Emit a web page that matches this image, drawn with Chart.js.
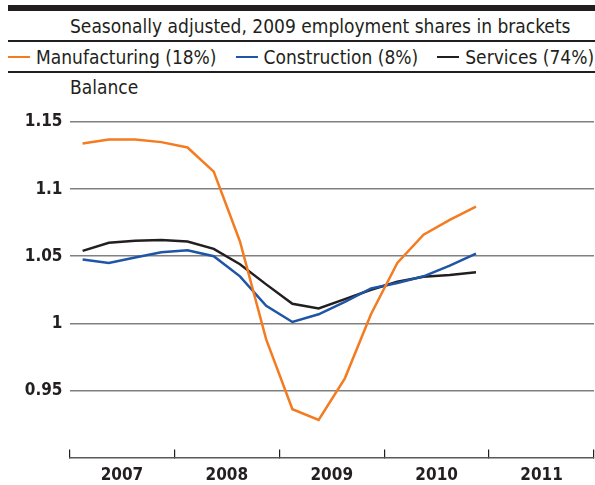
<!DOCTYPE html>
<html>
<head>
    <title>Employment balance by sector</title>
    <script src="https://cdn.jsdelivr.net/npm/chart.js"></script>
    <style>
        body {
            margin: 0;
            background: #fff;
        }
        .wrap {
            position: relative;
            width: 595px;
            height: 485px;
            font-family: "DejaVu Sans Condensed", "DejaVu Sans", sans-serif;
            color: #231f20;
        }
        .bar {
            position: absolute;
            left: 8px;
            top: 5px;
            width: 587px;
            height: 6px;
            background: #231f20;
        }
        .rule {
            position: absolute;
            left: 8px;
            width: 587px;
            height: 1.5px;
            background: #231f20;
        }
        .txt {
            position: absolute;
            font-size: 19px;
            line-height: 22px;
            white-space: nowrap;
        }
        #legend {
            position: absolute;
            left: 8px;
            top: 46px;
            height: 22px;
            display: flex;
            align-items: center;
            font-size: 19px;
            white-space: nowrap;
        }
        .item {
            display: flex;
            align-items: center;
            margin-right: 19px;
        }
        .swatch {
            width: 22px;
            height: 2.5px;
            margin-right: 6px;
        }
        canvas {
            position: absolute;
            left: 0;
            top: 0;
        }
    </style>
</head>
<body>
    <div class="wrap">
        <div class="bar"></div>
        <div class="txt" style="left:70px; top:15px;">Seasonally adjusted, 2009 employment shares in brackets</div>
        <div class="rule" style="top:40px;"></div>
        <div id="legend"></div>
        <div class="rule" style="top:71px;"></div>
        <div class="txt" style="left:70px; top:76px;">Balance</div>
        <canvas id="chart" width="595" height="485"></canvas>
    </div>

    <script>
        // quarterly points, Q1 2007 - Q4 2010 (2011 left empty)
        const quarters = [
            '2007 Q1', '2007 Q2', '2007 Q3', '2007 Q4',
            '2008 Q1', '2008 Q2', '2008 Q3', '2008 Q4',
            '2009 Q1', '2009 Q2', '2009 Q3', '2009 Q4',
            '2010 Q1', '2010 Q2', '2010 Q3', '2010 Q4',
            '2011 Q1', '2011 Q2', '2011 Q3', '2011 Q4'
        ];
        const years = ['2007', '2008', '2009', '2010', '2011'];

        const manufacturing = [1.134, 1.137, 1.137, 1.135, 1.131, 1.113, 1.061, 0.988,
                               0.936, 0.928, 0.959, 1.007, 1.045, 1.066, 1.077, 1.087];
        const construction  = [1.0475, 1.045, 1.049, 1.053, 1.0545, 1.050, 1.035, 1.013,
                               1.001, 1.0067, 1.016, 1.026, 1.030, 1.035, 1.043, 1.052];
        const services      = [1.054, 1.060, 1.0615, 1.062, 1.061, 1.0555, 1.044, 1.029,
                               1.0145, 1.011, 1.018, 1.025, 1.031, 1.0346, 1.036, 1.038];

        const seriesNames = ['Manufacturing (18%)', 'Construction (8%)', 'Services (74%)'];
        const seriesColors = ['#f47b20', '#1f55a6', '#231f20'];
        const yTicks = [0.95, 1, 1.05, 1.1, 1.15];

        const numFont = { family: '"DejaVu Sans Condensed", "DejaVu Sans", sans-serif', size: 17, weight: 'bold' };

        // html legend
        const legend = document.getElementById('legend');
        seriesNames.forEach((name, i) => {
            const item = document.createElement('div');
            item.className = 'item';
            item.innerHTML = `<span class="swatch" style="background:${seriesColors[i]}"></span><span>${name}</span>`;
            legend.appendChild(item);
        });

        const values = [manufacturing, construction, services];
        const datasets = values.map((data, i) => ({
            label: seriesNames[i],
            data: data,
            xAxisID: 'x',
            borderColor: seriesColors[i],
            backgroundColor: 'transparent',
            borderWidth: 2.5,
            pointRadius: 0,
            tension: 0
        }));

        const ctx = document.getElementById('chart').getContext('2d');
        new Chart(ctx, {
            type: 'line',
            data: { datasets: datasets },
            options: {
                responsive: false,
                animation: false,
                layout: { padding: { top: 122, right: 1, left: 0, bottom: 0 } },
                plugins: {
                    legend: { display: false },
                    tooltip: { enabled: false }
                },
                scales: {
                    x: {
                        type: 'category',
                        labels: quarters,
                        offset: true,
                        display: false
                    },
                    xYear: {
                        type: 'category',
                        labels: years,
                        position: 'bottom',
                        offset: true,
                        grid: {
                            offset: true,
                            drawOnChartArea: false,
                            tickLength: -8,
                            color: '#231f20',
                            lineWidth: 1.2
                        },
                        border: { color: '#58595b', width: 1.5 },
                        ticks: { padding: 16, color: '#231f20', font: numFont },
                        afterFit: s => { s.height = 27.5; }
                    },
                    y: {
                        min: 0.9,
                        max: 1.15,
                        afterBuildTicks: s => { s.ticks = yTicks.map(v => ({ value: v })); },
                        ticks: {
                            padding: 7,
                            color: '#231f20',
                            font: numFont,
                            callback: v => String(v)
                        },
                        grid: { drawTicks: false, color: '#808080', lineWidth: 1.5 },
                        border: { display: false },
                        afterFit: s => { s.width = 69.5; }
                    }
                }
            }
        });
    </script>
</body>
</html>
